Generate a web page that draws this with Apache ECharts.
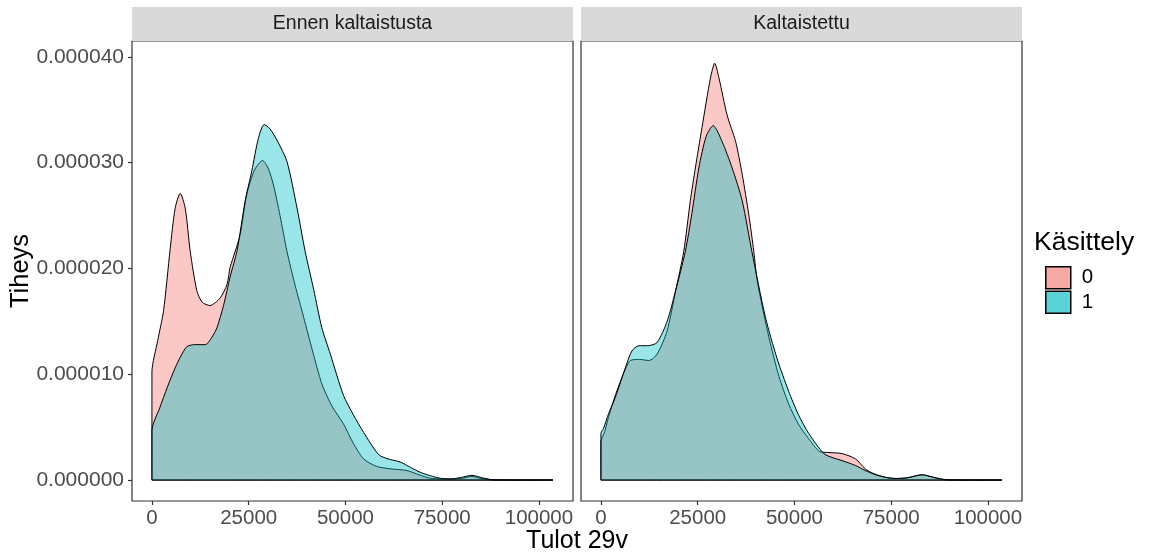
<!DOCTYPE html>
<html>
<head>
<meta charset="utf-8">
<script src="https://cdn.jsdelivr.net/npm/echarts@6/dist/echarts.min.js"></script>
<style>
  html, body { margin: 0; padding: 0; background: #fff; }
  #chart { width: 1152px; height: 557px; }
</style>
</head>
<body>
<div id="chart"></div>
<script>
// facet titles and group names
const panels = ['Ennen kaltaistusta', 'Kaltaistettu'];
const groups = ['0', '1'];
const xTicks = [0, 25000, 50000, 75000, 100000];
const yTicks = [0, 0.00001, 0.00002, 0.00003, 0.00004];

// density curves [tulot, tiheys]
const before0 = [
    [0, 10.2e-6], [1500, 13.2e-6], [3000, 16.0e-6], [4700, 21.8e-6], [6000, 25.7e-6],
    [7300, 27.1e-6], [8600, 25.7e-6], [9900, 21.6e-6], [11600, 17.9e-6], [13000, 16.8e-6],
    [15000, 16.5e-6], [17600, 17.2e-6], [19400, 18.5e-6], [20200, 20.1e-6], [21500, 21.6e-6],
    [22800, 23.2e-6], [24500, 27.0e-6], [26500, 29.3e-6], [28600, 30.2e-6], [30000, 29.5e-6],
    [31400, 27.9e-6], [33100, 25.0e-6], [34900, 21.6e-6], [37000, 18.4e-6], [39200, 15.4e-6],
    [41500, 12.2e-6], [43900, 9.1e-6], [46500, 7.0e-6], [49500, 5.3e-6], [52000, 3.5e-6],
    [54700, 2.0e-6], [58000, 1.3e-6], [61600, 1.06e-6], [65900, 0.9e-6], [69000, 0.5e-6],
    [71900, 0.17e-6], [75000, 0.1e-6], [78000, 0.1e-6], [80500, 0.2e-6], [82700, 0.35e-6],
    [85000, 0.15e-6], [88200, 0.02e-6], [95000, 0], [103600, 0]
];
const before1 = [
    [0, 4.7e-6], [2000, 6.8e-6], [4000, 8.8e-6], [6000, 10.6e-6], [7300, 11.6e-6],
    [9000, 12.6e-6], [11000, 12.8e-6], [13800, 12.8e-6], [15500, 13.5e-6], [16800, 14.4e-6],
    [18500, 16.5e-6], [20200, 19.2e-6], [22000, 21.7e-6], [24100, 26.4e-6], [25800, 29.2e-6],
    [27500, 32.3e-6], [29000, 33.6e-6], [30500, 33.2e-6], [32500, 32.0e-6], [34900, 30.1e-6],
    [37500, 25.7e-6], [39600, 21.6e-6], [41800, 18.0e-6], [43900, 14.4e-6], [46100, 11.9e-6],
    [49500, 8.0e-6], [52000, 6.2e-6], [54700, 4.5e-6], [58600, 2.4e-6], [61000, 2.0e-6],
    [64200, 1.7e-6], [66800, 1.2e-6], [69300, 0.74e-6], [72000, 0.4e-6], [74500, 0.17e-6],
    [77000, 0.1e-6], [80000, 0.25e-6], [82700, 0.45e-6], [85500, 0.2e-6], [88200, 0.02e-6],
    [95000, 0], [103600, 0]
];
const matched0 = [
    [0, 3.6e-6], [1000, 4.6e-6], [2000, 6.0e-6], [4000, 8.3e-6], [6000, 10.2e-6],
    [7600, 11.3e-6], [10000, 11.4e-6], [12400, 11.3e-6], [14500, 11.9e-6], [17100, 14.1e-6],
    [19300, 17.9e-6], [21400, 21.6e-6], [23100, 26.4e-6], [24400, 29.5e-6], [26100, 33.3e-6],
    [28300, 38.0e-6], [29400, 39.4e-6], [30500, 38.0e-6], [32600, 34.5e-6], [34800, 32.0e-6],
    [36500, 28.9e-6], [38200, 25.1e-6], [39500, 21.6e-6], [40400, 18.8e-6], [43400, 13.5e-6],
    [46000, 9.8e-6], [48500, 7.2e-6], [51000, 5.3e-6], [53700, 3.9e-6], [56500, 2.7e-6],
    [58900, 2.6e-6], [62300, 2.5e-6], [65800, 2.0e-6], [68300, 1.06e-6], [70500, 0.6e-6],
    [73500, 0.26e-6], [76000, 0.15e-6], [79000, 0.2e-6], [83000, 0.5e-6], [86000, 0.25e-6],
    [89400, 0.02e-6], [95000, 0], [103600, 0]
];
const matched1 = [
    [0, 4.4e-6], [700, 4.9e-6], [2000, 6.3e-6], [3700, 7.8e-6], [6300, 10.6e-6],
    [8000, 12.2e-6], [9800, 12.7e-6], [12000, 12.7e-6], [14500, 13.0e-6], [17100, 15.0e-6],
    [19300, 17.9e-6], [21800, 21.6e-6], [23500, 25.2e-6], [25300, 29.5e-6], [27200, 32.5e-6],
    [29000, 33.5e-6], [31300, 32.0e-6], [33900, 29.5e-6], [36500, 26.4e-6], [39000, 21.6e-6],
    [42500, 15.4e-6], [45500, 11.5e-6], [48500, 8.4e-6], [51000, 6.2e-6], [53700, 4.4e-6],
    [57600, 2.5e-6], [60000, 2.1e-6], [62300, 1.84e-6], [65800, 1.37e-6], [68300, 0.9e-6],
    [71000, 0.5e-6], [73500, 0.26e-6], [76000, 0.15e-6], [79000, 0.2e-6], [83000, 0.5e-6],
    [86000, 0.25e-6], [89400, 0.02e-6], [95000, 0], [103600, 0]
];

const font = "'Liberation Sans', Arial, sans-serif";
const fills = ['rgba(248,118,109,0.4)', 'rgba(0,191,196,0.4)'];
const keyColors = ['#F6A8A3', '#5AD3D7'];
const gridLeft = [132, 581];
const gridTop = 41, gridW = 441, gridH = 460;

// polygon outline like geom_density: up from baseline, along curve, back along baseline
function closed(curve) {
    const x0 = curve[0][0];
    return [[x0, 0]].concat(curve, [[x0, 0]]);
}

const chart = echarts.init(document.getElementById('chart'), null, { renderer: 'canvas' });

const grids = gridLeft.map(l => ({
    left: l, top: gridTop, width: gridW, height: gridH,
    show: true, borderColor: '#333333', borderWidth: 1.2, backgroundColor: '#fff'
}));

const xAxes = gridLeft.map((l, i) => ({
    type: 'value', gridIndex: i, min: -5150, max: 108800,
    splitLine: { show: false },
    axisLine: { show: false, onZero: false },
    axisTick: { show: true, length: 4, customValues: xTicks, lineStyle: { color: '#333333', width: 1.2 } },
    axisLabel: {
        show: true, customValues: xTicks, margin: 7,
        fontSize: 20.5, color: '#4D4D4D', fontFamily: font,
        formatter: v => String(v)
    }
}));

const yAxes = gridLeft.map((l, i) => ({
    type: 'value', gridIndex: i, min: -0.00000198, max: 0.0000415,
    splitLine: { show: false },
    axisLine: { show: false, onZero: false },
    axisTick: { show: i === 0, length: 4, customValues: yTicks, lineStyle: { color: '#333333', width: 1.2 } },
    axisLabel: {
        show: i === 0, customValues: yTicks, margin: 8,
        fontSize: 21, color: '#4D4D4D', fontFamily: font,
        formatter: v => v.toFixed(6)
    }
}));

const curves = [[before0, before1], [matched0, matched1]];
const series = [];
curves.forEach((pair, p) => {
    pair.forEach((curve, g) => {
        series.push({
            name: groups[g],
            type: 'line',
            xAxisIndex: p, yAxisIndex: p,
            data: closed(curve),
            showSymbol: false,
            smooth: 0.25,
            lineStyle: { color: '#000', width: 1 },
            itemStyle: { color: fills[g] },
            areaStyle: { color: fills[g], opacity: 1, origin: 0 },
            z: 2 + g,
            silent: true
        });
    });
});

const graphics = [];
gridLeft.forEach((l, i) => {
    graphics.push({
        type: 'rect', left: l, top: 7, z: 10,
        shape: { width: gridW, height: 34 },
        style: { fill: '#D9D9D9' }
    });
    graphics.push({
        type: 'text', x: l + gridW / 2, y: 24, z: 11,
        style: {
            text: panels[i], fill: '#1A1A1A', font: '19.5px ' + font,
            textAlign: 'center', textVerticalAlign: 'middle'
        }
    });
});
graphics.push({
    type: 'text', x: 577, y: 541,
    style: { text: 'Tulot 29v', fill: '#000', font: '25px ' + font, textAlign: 'center', textVerticalAlign: 'middle' }
});
graphics.push({
    type: 'text', x: 21, y: 271, rotation: Math.PI / 2,
    style: { text: 'Tiheys', fill: '#000', font: '25.5px ' + font, textAlign: 'center', textVerticalAlign: 'middle' }
});
graphics.push({
    type: 'text', x: 1034, y: 243,
    style: { text: 'Käsittely', fill: '#000', font: '26.5px ' + font, textAlign: 'left', textVerticalAlign: 'middle' }
});

chart.setOption({
    backgroundColor: '#ffffff',
    animation: false,
    grid: grids,
    xAxis: xAxes,
    yAxis: yAxes,
    legend: {
        orient: 'vertical', left: 1045, top: 266, padding: 0,
        itemWidth: 25, itemHeight: 22, itemGap: 1,
        selectedMode: false,
        textStyle: { fontSize: 20.5, color: '#000', fontFamily: font, padding: [0, 0, 0, 6] },
        data: groups.map((g, i) => ({
            name: g, icon: 'rect',
            itemStyle: { color: keyColors[i], borderColor: '#000', borderWidth: 1.5 }
        }))
    },
    graphic: graphics,
    series: series
});
</script>
</body>
</html>
